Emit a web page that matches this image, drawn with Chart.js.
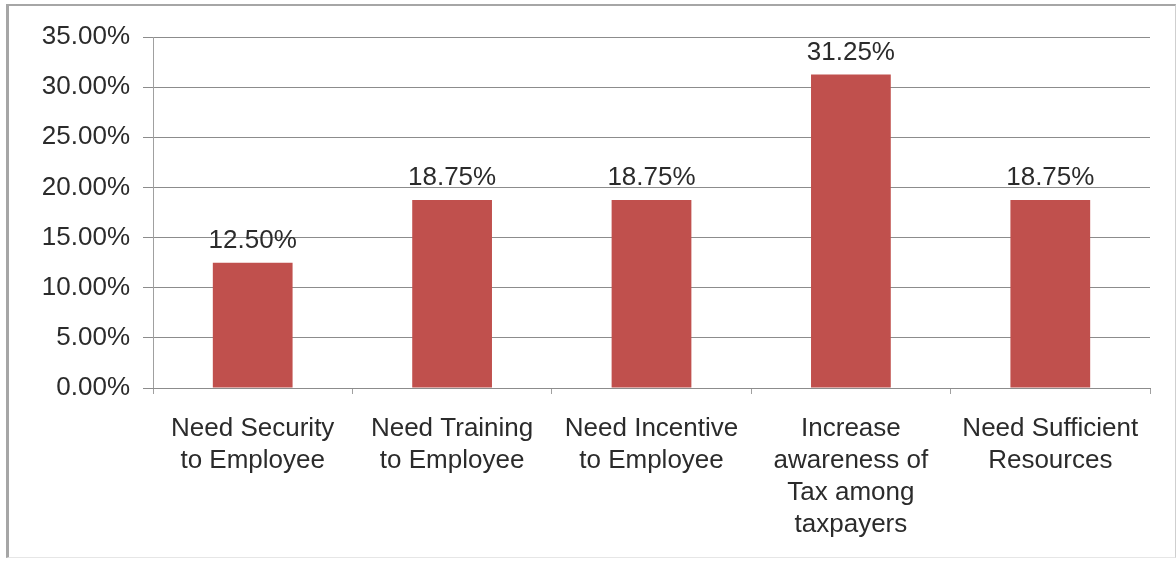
<!DOCTYPE html>
<html>
<head>
<meta charset="utf-8">
<script src="https://cdn.jsdelivr.net/npm/chart.js@4"></script>
<style>
  html, body { margin: 0; padding: 0; background: #fff; }
  #wrap { position: relative; width: 1176px; height: 561px; }
  #frame {
    position: absolute; left: 6px; top: 4px; right: 0; bottom: 3px;
    border-left: 3px solid #a6a6a6; border-top: 2px solid #a6a6a6;
    border-right: 1px solid #cfcfcf; border-bottom: 1px solid #e6e6e6;
    pointer-events: none;
  }
  canvas { position: absolute; left: 0; top: 0; }
</style>
</head>
<body>
<div id="wrap">
  <canvas id="chart" width="1176" height="561"></canvas>
  <div id="frame"></div>
</div>
<script>
// 各カテゴリ（複数行ラベル）
const categories = [
  ['Need Security', 'to Employee'],
  ['Need Training', 'to Employee'],
  ['Need Incentive', 'to Employee'],
  ['Increase', 'awareness of', 'Tax among', 'taxpayers'],
  ['Need Sufficient', 'Resources']
];

// 割合（%）
const shares = [12.50, 18.75, 18.75, 31.25, 18.75];

// Y軸の目盛り
const yTicks = [0, 5, 10, 15, 20, 25, 30, 35];

const FONT = "'Liberation Sans', Arial, sans-serif";
const fmt = v => v.toFixed(2) + '%';

// 棒の上に値ラベルを描く
const valueLabels = {
  id: 'valueLabels',
  afterDatasetsDraw(chart) {
    const ctx = chart.ctx;
    const meta = chart.getDatasetMeta(0);
    ctx.save();
    ctx.font = '26px ' + FONT;
    ctx.fillStyle = '#2b2b2b';
    ctx.textAlign = 'center';
    ctx.textBaseline = 'alphabetic';
    meta.data.forEach((bar, i) => {
      ctx.fillText(fmt(shares[i]), bar.x, bar.y - 15);
    });
    ctx.restore();
  }
};

new Chart(document.getElementById('chart'), {
  type: 'bar',
  data: {
    labels: categories,
    datasets: [{
      data: shares,
      backgroundColor: '#c0504d',
      borderWidth: 0,
      barPercentage: 0.8,
      categoryPercentage: 0.5
    }]
  },
  options: {
    responsive: false,
    animation: false,
    layout: { padding: { left: 8, right: 26, top: 37, bottom: 0 } },
    plugins: {
      legend: { display: false },
      tooltip: { enabled: false }
    },
    scales: {
      y: {
        min: yTicks[0],
        max: yTicks[yTicks.length - 1],
        afterBuildTicks: scale => { scale.ticks = yTicks.map(v => ({ value: v })); },
        afterFit: scale => { scale.width = 145; },
        ticks: {
          font: { family: FONT, size: 26 },
          color: '#2b2b2b',
          padding: 13,
          callback: v => fmt(v)
        },
        grid: { color: '#8c8c8c', lineWidth: 1, tickLength: 10 },
        border: { color: '#a0a0a0' }
      },
      x: {
        afterFit: scale => { scale.height = 173; },
        ticks: {
          font: { family: FONT, size: 26, lineHeight: 1.23 },
          color: '#2b2b2b',
          padding: 19,
          maxRotation: 0,
          autoSkip: false
        },
        grid: { offset: true, drawOnChartArea: false, color: '#a0a0a0', tickLength: 6 },
        border: { color: '#8c8c8c' }
      }
    }
  },
  plugins: [valueLabels]
});
</script>
</body>
</html>
